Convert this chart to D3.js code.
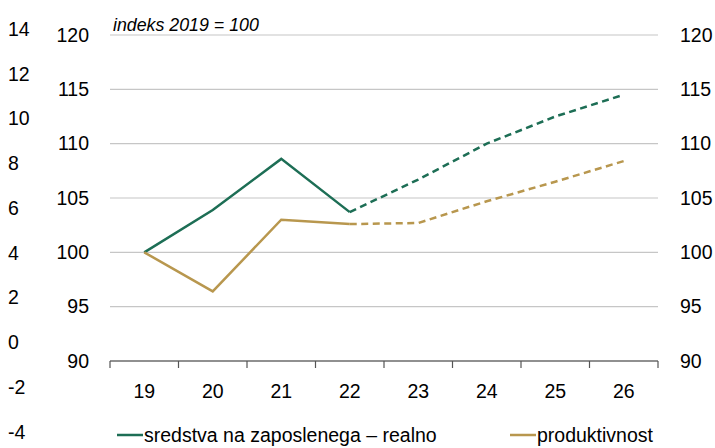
<!DOCTYPE html>
<html>
<head>
<meta charset="utf-8">
<script src="https://cdn.jsdelivr.net/npm/d3@7"></script>
<style>
  body { margin: 0; background: #fff; }
  text { font-family: "Liberation Sans", Arial, sans-serif; fill: #000; }
</style>
</head>
<body>
<script>
(function (d3) {
    'use strict';

    var years = ["19", "20", "21", "22", "23", "24", "25", "26"];
    // sredstva na zaposlenega - realno, indeks 2019 = 100
    var sredstva = [100, 103.9, 108.6, 103.7, 106.7, 110.0, 112.5, 114.5];
    // produktivnost
    var produktivnost = [100, 96.4, 103.0, 102.6, 102.7, 104.7, 106.5, 108.4];
    var lastActual = 3; // from 22 on: napoved (dashed)

    var yTicks = [90, 95, 100, 105, 110, 115, 120];
    var outerTicks = [-4, -2, 0, 2, 4, 6, 8, 10, 12, 14];

    const width = 715, height = 448;
    const plot = { left: 110, right: 658, top: 35, bottom: 361 };
    const fs = 19.5;

    var svg = d3.select("body").append("svg")
        .attr("width", width)
        .attr("height", height);

    var x = d3.scaleBand()
        .domain(years)
        .range([plot.left, plot.right]);

    var y = d3.scaleLinear()
        .domain([90, 120])
        .range([plot.bottom, plot.top]);

    // leftover outer axis on the far left
    var yOuter = d3.scaleLinear()
        .domain([-4, 14])
        .range([432, 29]);

    svg.append("g")
        .selectAll("text")
        .data(outerTicks)
        .enter().append("text")
        .attr("x", 8)
        .attr("y", function (d) { return yOuter(d); })
        .attr("dy", "0.35em")
        .attr("font-size", fs)
        .text(function (d) { return d; });

    // gridlines
    svg.append("g")
        .selectAll("line")
        .data(yTicks.filter(function (d) { return d > 90; }))
        .enter().append("line")
        .attr("x1", plot.left)
        .attr("x2", plot.right)
        .attr("y1", function (d) { return y(d); })
        .attr("y2", function (d) { return y(d); })
        .attr("stroke", "#c6c6c6")
        .attr("stroke-width", 1.2);

    // left and right value labels
    svg.append("g")
        .selectAll("text")
        .data(yTicks)
        .enter().append("text")
        .attr("x", 89)
        .attr("y", function (d) { return y(d); })
        .attr("dy", "0.35em")
        .attr("text-anchor", "end")
        .attr("font-size", fs)
        .text(function (d) { return d; });

    svg.append("g")
        .selectAll("text")
        .data(yTicks)
        .enter().append("text")
        .attr("x", 680)
        .attr("y", function (d) { return y(d); })
        .attr("dy", "0.35em")
        .attr("font-size", fs)
        .text(function (d) { return d; });

    // x axis
    var xAxis = svg.append("g")
        .attr("transform", "translate(0," + plot.bottom + ")");

    xAxis.append("line")
        .attr("x1", plot.left)
        .attr("x2", plot.right)
        .attr("stroke", "#222")
        .attr("stroke-width", 1.2);

    var edges = years.map(function (d) { return x(d); }).concat([plot.right]);
    xAxis.selectAll(".tk")
        .data(edges)
        .enter().append("line")
        .attr("class", "tk")
        .attr("x1", function (d) { return d; })
        .attr("x2", function (d) { return d; })
        .attr("y1", 0)
        .attr("y2", 7)
        .attr("stroke", "#555")
        .attr("stroke-width", 1.2);

    xAxis.selectAll("text")
        .data(years)
        .enter().append("text")
        .attr("x", function (d) { return x(d) + x.bandwidth() / 2; })
        .attr("y", 30)
        .attr("dy", "0.35em")
        .attr("text-anchor", "middle")
        .attr("font-size", fs)
        .text(function (d) { return d; });

    // title inside plot
    svg.append("text")
        .attr("x", 113)
        .attr("y", 31)
        .attr("font-size", 17.8)
        .attr("font-style", "italic")
        .text("indeks 2019 = 100");

    var line = d3.line()
        .x(function (d) { return x(d.year) + x.bandwidth() / 2; })
        .y(function (d) { return y(d.value); });

    var series = [
        { name: "sredstva na zaposlenega – realno", values: sredstva, color: "#1d6e55" },
        { name: "produktivnost", values: produktivnost, color: "#b8974e" }
    ];

    series.forEach(function (s) {
        var pts = s.values.map(function (v, i) { return { year: years[i], value: v }; });
        svg.append("path")
            .datum(pts.slice(0, lastActual + 1))
            .attr("fill", "none")
            .attr("stroke", s.color)
            .attr("stroke-width", 2.5)
            .attr("stroke-linejoin", "miter")
            .attr("d", line);
        svg.append("path")
            .datum(pts.slice(lastActual))
            .attr("fill", "none")
            .attr("stroke", s.color)
            .attr("stroke-width", 2.5)
            .attr("stroke-dasharray", "7,4.5")
            .attr("d", line);
    });

    // legend
    var legendX = [117, 510];
    var legend = svg.append("g")
        .selectAll("g")
        .data(series)
        .enter().append("g")
        .attr("transform", function (d, i) { return "translate(" + legendX[i] + ",435)"; });

    legend.append("line")
        .attr("x1", 0)
        .attr("x2", 26)
        .attr("stroke", function (d) { return d.color; })
        .attr("stroke-width", 2.5);

    legend.append("text")
        .attr("x", 27)
        .attr("dy", "0.35em")
        .attr("font-size", fs)
        .text(function (d) { return d.name; });

})(d3);
</script>
</body>
</html>
